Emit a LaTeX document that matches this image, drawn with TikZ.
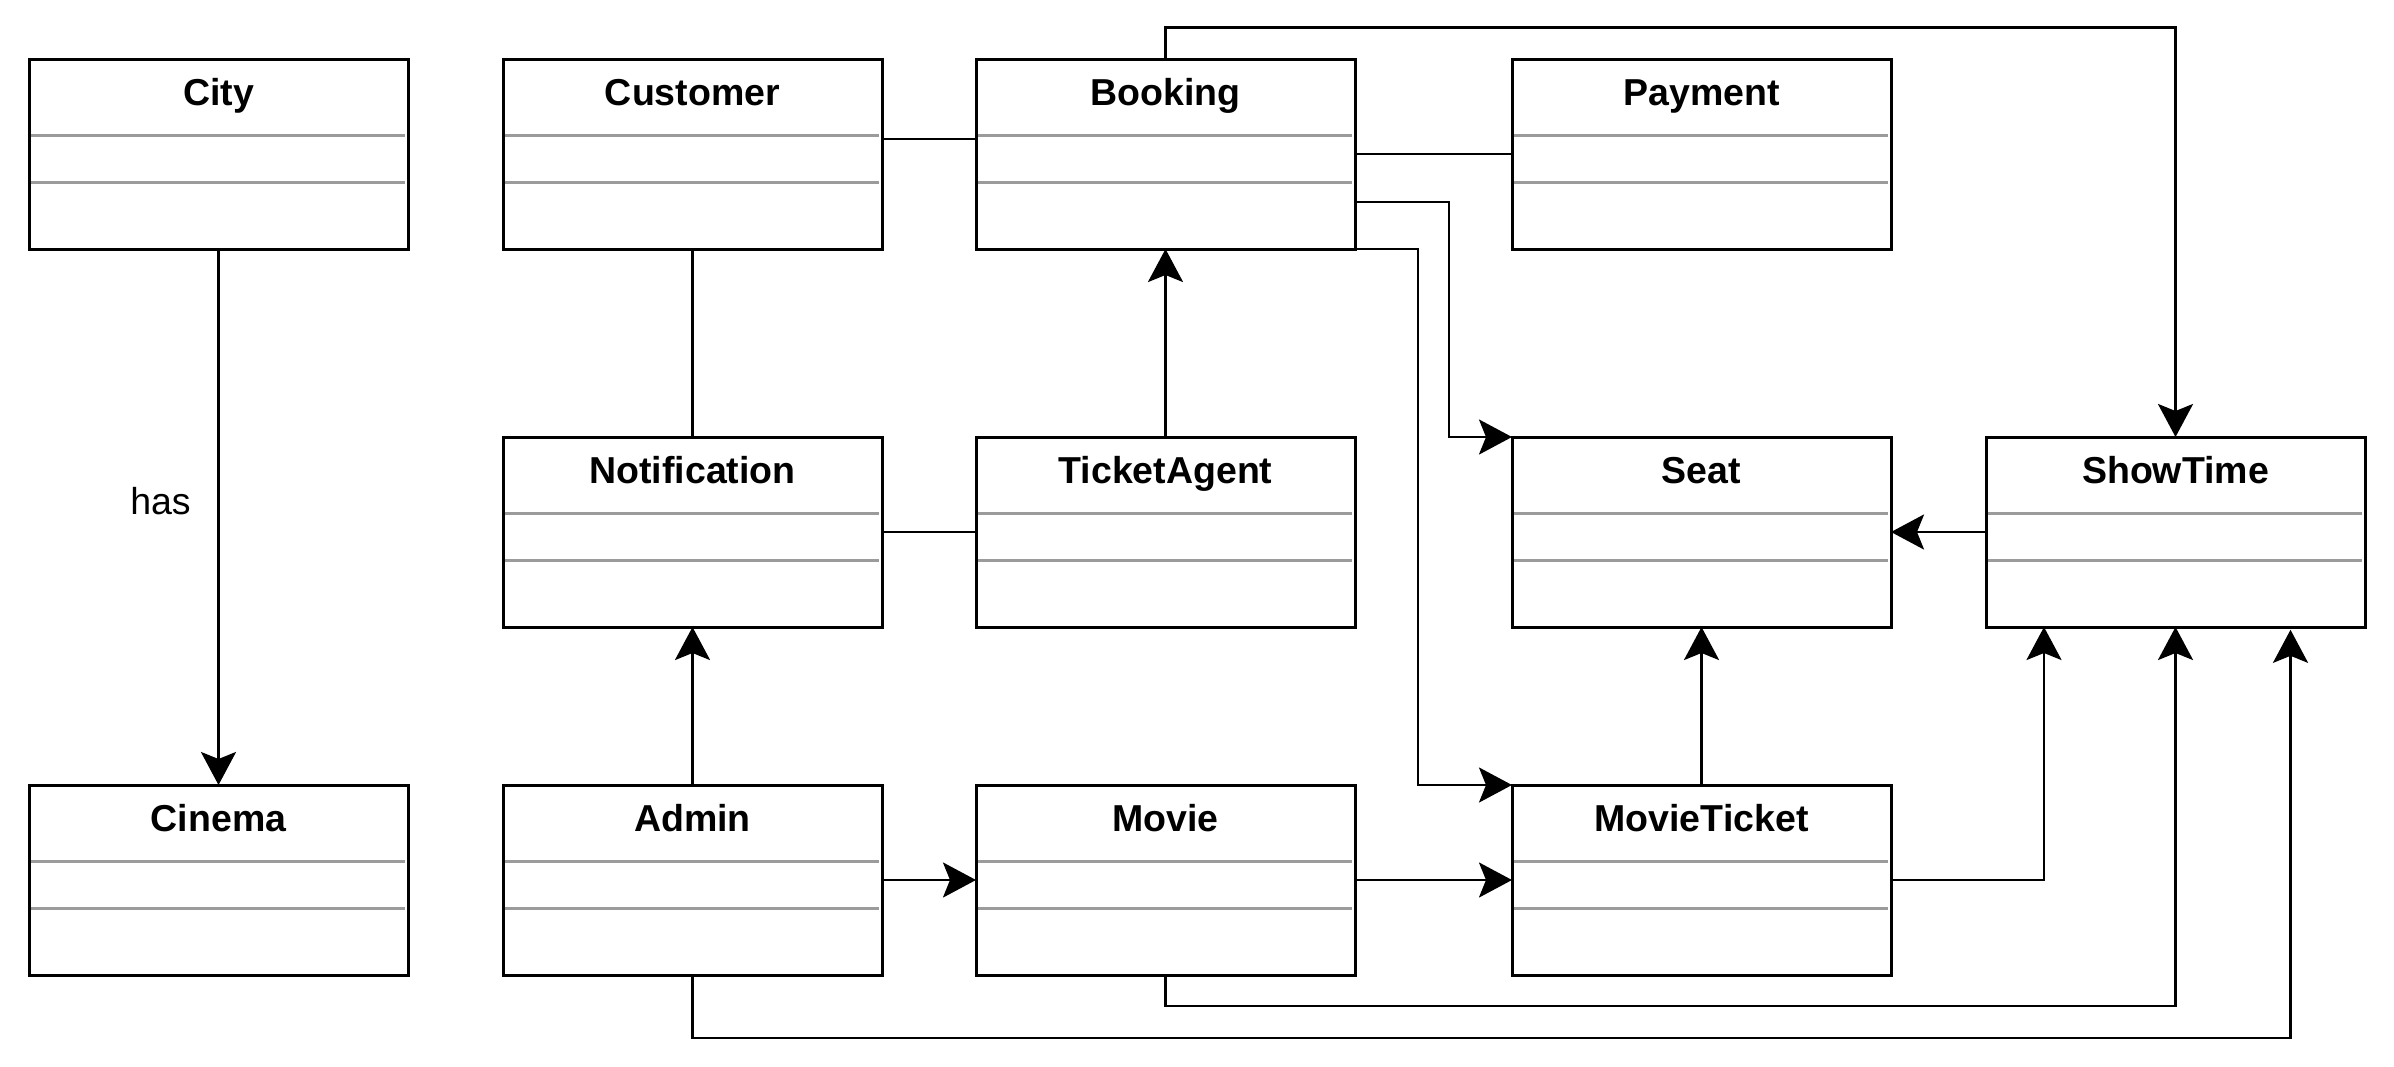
\documentclass[tikz,border=0pt]{standalone}
\usepackage{fontspec}
\setmainfont{Liberation Sans}
\usetikzlibrary{arrows.meta}
\definecolor{sepgray}{RGB}{155,155,155}
\newcommand\umlclass[4]{%
  \node[cls] (#1) at (#2,#3) {};
  \node[ttl] (#1-t) at ([yshift=-23pt]#1.north) {#4};
  \draw[sep] ([yshift=-38pt,xshift=0.75pt]#1.north west) -- ([yshift=-38pt,xshift=-1.5pt]#1.north east);
  \draw[sep] ([yshift=-61.75pt,xshift=0.75pt]#1.north west) -- ([yshift=-61.75pt,xshift=-1.5pt]#1.north east);
}
\begin{document}
\begin{tikzpicture}[x=0.5pt,y=-0.5pt,
  cls/.style={draw=black,line width=1.5pt,rectangle,minimum width=189.5pt,minimum height=95pt,anchor=north west,inner sep=0pt,outer sep=0pt},
  ttl/.style={font=\bfseries\fontsize{18.75pt}{22pt}\selectfont,anchor=base,inner sep=0pt},
  sep/.style={draw=sepgray,line width=1.5pt},
  conn/.style={draw=black,line width=1.4pt},
  arr/.style={conn,-{Stealth[length=16.5pt,width=17.5pt,inset=3.5pt]}},
  lbl/.style={font=\fontsize{18.75pt}{22pt}\selectfont,inner sep=0pt}]
\useasboundingbox (0,0) rectangle (2394,1066);
\umlclass{city}{29}{59}{City}
\umlclass{customer}{503}{59}{Customer}
\umlclass{booking}{976}{59}{Booking}
\umlclass{payment}{1512}{59}{Payment}
\umlclass{notification}{503}{437}{Notification}
\umlclass{ticketagent}{976}{437}{TicketAgent}
\umlclass{seat}{1512}{437}{Seat}
\umlclass{showtime}{1986}{437}{ShowTime}
\umlclass{cinema}{29}{785}{Cinema}
\umlclass{admin}{503}{785}{Admin}
\umlclass{movie}{976}{785}{Movie}
\umlclass{movieticket}{1512}{785}{MovieTicket}
% helper coordinates
\coordinate (h138) at (0,139);
\coordinate (h202) at (0,202);
\coordinate (v1449) at (1449,0);
\coordinate (v1418) at (1418,0);
\coordinate (h27) at (0,27.5);
\coordinate (h1006) at (0,1006);
\coordinate (h1038) at (0,1038);
\coordinate (mtst) at ([xshift=29pt]showtime.south west);
\coordinate (adst) at ([xshift=152.25pt,yshift=-1.4pt]showtime.south west);
% connectors
\draw[arr] (city.south) -- node[lbl,pos=0.47,xshift=-29pt] (haslbl) {has} (cinema.north);
\draw[conn] (customer.east |- h138) -- (booking.west |- h138);
\draw[conn] (booking.east) -- (payment.west);
\draw[arr] (booking.east |- h202) -| (v1449 |- seat.north west) -- (seat.north west);
\draw[arr] (booking.south east) -| (v1418 |- movieticket.north west) -- (movieticket.north west);
\draw[arr] (booking.north) -- (booking.north |- h27) -| (showtime.north);
\draw[conn] (customer.south) -- (notification.north);
\draw[conn] (notification.east) -- (ticketagent.west);
\draw[arr] (ticketagent.north) -- (booking.south);
\draw[arr] (showtime.west) -- (seat.east);
\draw[arr] (admin.north) -- (notification.south);
\draw[arr] (admin.east) -- (movie.west);
\draw[arr] (movie.east) -- (movieticket.west);
\draw[arr] (movieticket.north) -- (seat.south);
\draw[arr] (movieticket.east) -| (mtst);
\draw[arr] (movie.south) -- (movie.south |- h1006) -| (showtime.south);
\draw[arr] (admin.south) -- (admin.south |- h1038) -| (adst);
\end{tikzpicture}
\end{document}
